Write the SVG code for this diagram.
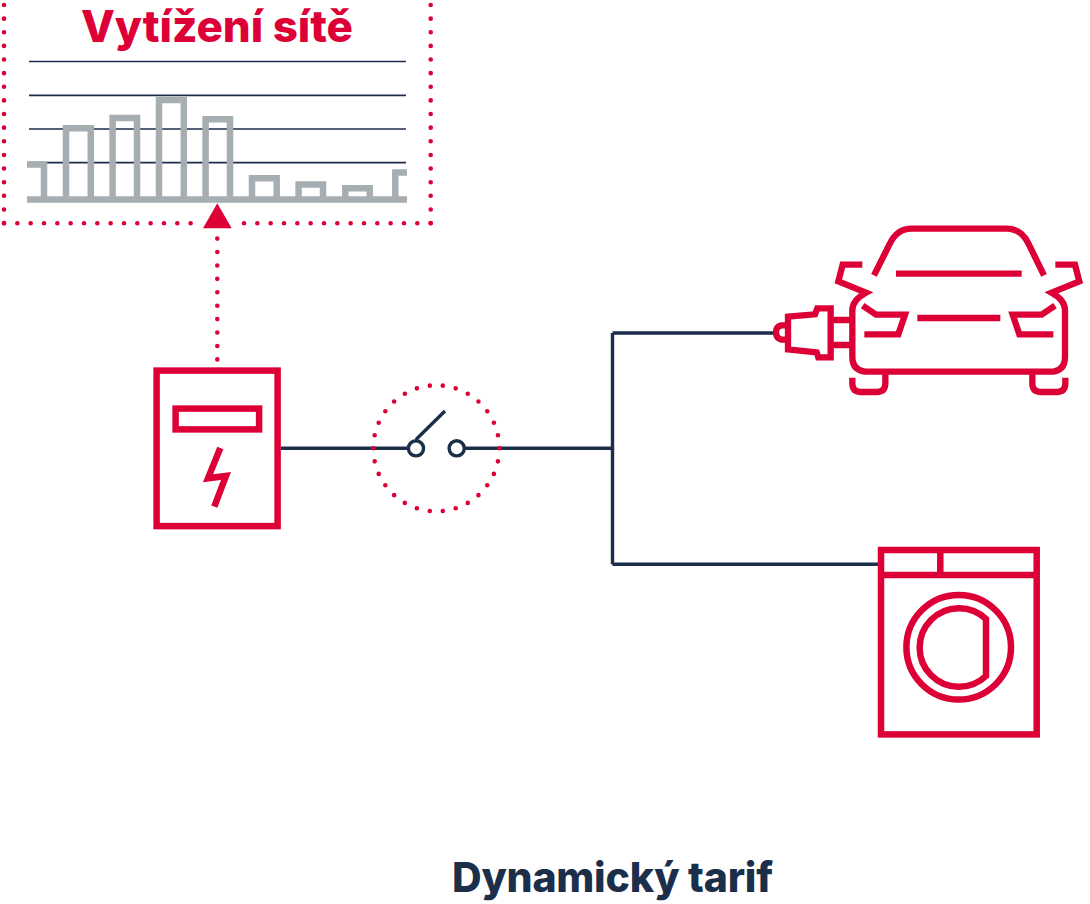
<svg xmlns="http://www.w3.org/2000/svg" width="1090" height="904" viewBox="0 0 1090 904">
<style>
.r{fill:none;stroke:#dc0037;stroke-width:6.5}
.c{fill:none;stroke:#dc0037;stroke-width:19}
.g{fill:none;stroke:#a7aeb1;stroke-width:6.5}
.n{fill:none;stroke:#1b2f4b;stroke-width:3.4}
.h{fill:none;stroke:#1b2f4b;stroke-width:1.7}
.d{fill:none;stroke:#dc0037;stroke-width:4.6;stroke-linecap:round}
.t{font-family:Inter,"Liberation Sans",Arial,sans-serif;font-weight:800}
</style>
<rect width="1090" height="904" fill="#fff"/>
<g id="connectors">
<path class="n" d="M281 448.3H408M465 448.3H612.5M612.5 333V564.3M612.5 333H776M612.5 564.3H880"/>
<path class="d" stroke-dasharray="0 13.42" d="M217.3 238.6V360"/>
</g>
<g id="chart">
<path class="h" d="M29 61.5H406M29 95.3H406M29 129H406M29 162.7H406"/>
<path class="g" d="M27 164.5H44V199.5M66 199.5V128.3H90.8V199.5M112.6 199.5V118H137V199.5M159 199.5V100H183.8V199.5M205.6 199.5V119.3H230V199.5M252 199.5V178.3H276.7V199.5M298.6 199.5V184.6H323V199.5M345.3 199.5V188.3H369.7V199.5M395.3 199.5V172.6H407M27 199.5H407"/>
<polygon points="217.3,203.3 231.7,228.3 203,228.3" fill="#dc0037"/>
<path class="d" stroke-dasharray="0 13.63" d="M4 5V224M430.7 5V224"/>
<path class="d" stroke-dasharray="0 13.33" d="M4 223.3H191M244 223.3H431"/>
<text class="t" x="217" y="41.7" text-anchor="middle" fill="#dc0037" font-size="44" textLength="272" lengthAdjust="spacing">Vytížení sítě</text>
</g>
<g id="meter">
<rect class="r" x="156.6" y="370.6" width="121" height="155.5"/>
<rect class="r" x="175.6" y="408.6" width="83.5" height="20.8"/>
<path class="r" d="M220.3 448L208 478.3L226 476L214.3 506.7"/>
</g>
<g id="switch">
<circle class="d" cx="436.3" cy="448.3" r="63" pathLength="30" stroke-dasharray="0 1"/>
<circle class="n" cx="416" cy="448.3" r="7.6"/>
<circle class="n" cx="456.7" cy="448.3" r="7.6"/>
<path class="n" d="M416 439.5L445 411"/>
</g>
<g id="car" transform="translate(760 215) scale(.33333)">
<path class="c" d="M342 181L390 85Q412 41 455 41H740Q783 41 805 85L852 181M408 176H785M307 149H248L235 199L318 233Q277 255 277 285V425Q277 470 325 470H870Q915 470 915 425V285Q915 255 875 233L958 199L945 149H886M308 272L348 299H435L415 358H313M885 272L845 299H758L778 358H880M472 309H721M277 488V505Q277 531 303 531H350Q376 531 376 505V475M817 475V505Q817 531 843 531H890Q916 531 916 505V488"/>
<path class="c" d="M212 315H277M212 390H277M212 280H172L165 298L84 305V403L170 412L175 427H212ZM84 331H64Q48 335 48 352Q48 370 64 374H84"/>
</g>
<g id="washer">
<rect class="r" x="881" y="550" width="155.7" height="184.4"/>
<path class="r" d="M881 575H1036.7M940.3 550V575"/>
<circle class="r" cx="958.7" cy="647.3" r="52.3"/>
<path class="r" d="M986 619A39.3 39.3 0 1 0 986 676Z"/>
</g>
<text class="t" x="612.5" y="892" text-anchor="middle" fill="#1b2f4b" font-size="41" textLength="321" lengthAdjust="spacing">Dynamický tarif</text>
</svg>
